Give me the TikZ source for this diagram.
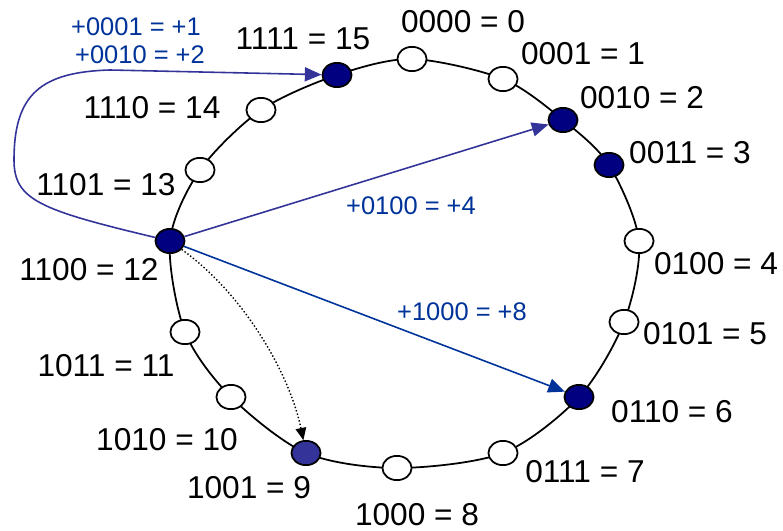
\documentclass[tikz,border=0pt]{standalone}
\usepackage{fontspec}
\setmainfont{Liberation Sans}
\usetikzlibrary{shapes.geometric,arrows.meta}
\definecolor{navy}{HTML}{000080}
\definecolor{purp}{HTML}{333399}
\definecolor{lblue}{HTML}{003399}
\begin{document}
\begin{tikzpicture}[x=0.02cm,y=-0.02cm,
  ring/.style={line width=1pt},
  peer/.style={ellipse,draw,line width=1pt,inner sep=0pt,minimum width=16.6pt,minimum height=13.8pt,fill=white},
  full/.style={peer,fill=navy},
  lbl/.style={font=\fontsize{18}{21}\selectfont,inner sep=0pt},
  blbl/.style={font=\fontsize{14.5}{17}\selectfont,text=lblue,inner sep=0pt},
  finger/.style={line width=0.9pt,-{Triangle[length=9.5pt,width=8pt]}},
  hop/.style={dash pattern=on 0.8pt off 1.2pt,line width=0.8pt,-{Triangle[length=7pt,width=6pt]}},
]
\path[use as bounding box] (0,0) rectangle (783,530);
% positions on the ring
\coordinate (p0) at (412,59);
\coordinate (p1) at (503,79);
\coordinate (p2) at (563,120);
\coordinate (p3) at (609,165);
\coordinate (p4) at (639,241);
\coordinate (p5) at (624,322);
\coordinate (p6) at (579,397);
\coordinate (p7) at (503,453);
\coordinate (p8) at (397,468);
\coordinate (p9) at (306,453);
\coordinate (p10) at (231,397);
\coordinate (p11) at (185,332);
\coordinate (p12) at (170,241);
\coordinate (p13) at (200,170);
\coordinate (p14) at (261,110);
\coordinate (p15) at (337,75);
% ring
\draw[ring] plot[smooth cycle] coordinates {(p0) (p1) (p2) (p3) (p4) (p5) (p6) (p7) (p8) (p9) (p10) (p11) (p12) (p13) (p14) (p15)};
% nodes
\node[peer] (n0) at (p0) {};
\node[peer] (n1) at (p1) {};
\node[full] (n2) at (p2) {};
\node[full] (n3) at (p3) {};
\node[peer] (n4) at (p4) {};
\node[peer] (n5) at (p5) {};
\node[full] (n6) at (p6) {};
\node[peer] (n7) at (p7) {};
\node[peer] (n8) at (p8) {};
\node[peer,fill=purp] (n9) at (p9) {};
\node[peer] (n10) at (p10) {};
\node[peer] (n11) at (p11) {};
\node[full] (n12) at (p12) {};
\node[peer] (n13) at (p13) {};
\node[peer] (n14) at (p14) {};
\node[full] (n15) at (p15) {};
% labels
\node[lbl] (l0) at (463,22) {0000 = 0};
\node[lbl] (l1) at (583,54) {0001 = 1};
\node[lbl] (l2) at (642,98) {0010 = 2};
\node[lbl] (l3) at (690,153) {0011 = 3};
\node[lbl] (l4) at (716,264) {0100 = 4};
\node[lbl] (l5) at (705,334) {0101 = 5};
\node[lbl] (l6) at (672,412) {0110 = 6};
\node[lbl] (l7) at (585,472) {0111 = 7};
\node[lbl] (l8) at (417,515) {1000 = 8};
\node[lbl] (l9) at (249,488) {1001 = 9};
\node[lbl] (l10) at (167,440) {1010 = 10};
\node[lbl] (l11) at (106,366) {1011 = 11};
\node[lbl] (l12) at (89,270) {1100 = 12};
\node[lbl] (l13) at (106,185) {1101 = 13};
\node[lbl] (l14) at (152,108) {1110 = 14};
\node[lbl] (l15) at (303,39) {1111 = 15};
% finger labels
\node[blbl] (f1) at (136,27) {+0001 = +1};
\node[blbl] (f2) at (140,55) {+0010 = +2};
\node[blbl] (f4) at (411,206) {+0100 = +4};
\node[blbl] (f8) at (462,312) {+1000 = +8};
% fingers
\draw[finger,purp] (n12) .. controls (40,210) and (14,200) .. (14,160)
  .. controls (14,95) and (40,72) .. (110,70) -- (n15);
\draw[finger,purp] (n12) -- (n2);
\draw[finger,lblue] (n12) -- (n6);
\draw[hop] (n12) .. controls (245,295) and (290,375) .. (n9);
\end{tikzpicture}
\end{document}
